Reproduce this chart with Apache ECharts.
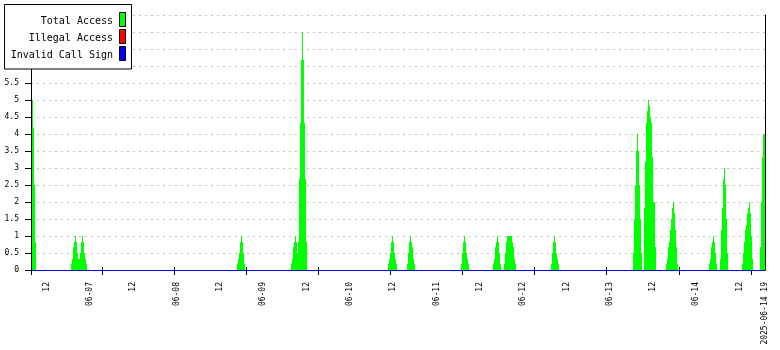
<!DOCTYPE html>
<html>
<head>
<meta charset="utf-8">
<script src="https://cdn.jsdelivr.net/npm/echarts@6/dist/echarts.min.js"></script>
<style>
  html, body { margin: 0; padding: 0; background: #fff; }
  #chart { width: 780px; height: 350px; }
</style>
</head>
<body>
<div id="chart"></div>
<script>
// ---- time range (hours counted from 2025-06-06 00:00) ----
const X_MIN = 7.67;      // 06-06 07:40
const X_MAX = 211;       // 06-14 19:00
const STEP_H = 1000 / 3600; // sampling period of the data (hours)

// ---- x axis labels ----
const labelHours = [12, 24, 36, 48, 60, 72, 84, 96, 108, 120, 132, 144, 156, 168, 180, 192, 204, 211];
const labelTexts = ['12', '06-07', '12', '06-08', '12', '06-09', '12', '06-10', '12', '06-11',
                    '12', '06-12', '12', '06-13', '12', '06-14', '12', '2025-06-14 19'];
// ---- x axis tick marks ----
const tickHours = [7.67, 27.43, 47.39, 67.34, 87.30, 107.25, 127.21, 147.17, 167.04, 187.35, 207.31];

// ---- series ----
const seriesNames = ['Total Access', 'Illegal Access', 'Invalid Call Sign'];
const seriesColors = ['#00ff00', '#ff0000', '#0000ff'];

// Total Access: start time of each burst (hours) and the sampled values in it
const burstStart = [7.86, 18.76, 64.77, 79.73, 106.62, 111.88, 126.85, 135.72, 138.77, 151.79,
                    174.52, 177.57, 183.67, 195.59, 198.63, 204.73, 209.72];
const burst0606a = [5, 4.17, 2.5, 0.83];
const burst0606b = [0.17, 0.33, 0.67, 0.83, 1, 0.83, 0.5, 0.33, 0.33, 0.5, 0.83, 1, 0.83, 0.5, 0.33, 0.17];
const burst0608  = [0.17, 0.33, 0.5, 0.83, 1, 0.83, 0.5, 0.17];
const burst0609  = [0.17, 0.33, 0.67, 0.83, 1, 0.83, 0.5, 0.83, 2.67, 4.33, 6.17, 7, 6.17, 4.33, 2.67, 0.83];
const burst0610a = [0.17, 0.33, 0.5, 0.83, 1, 0.83, 0.5, 0.33, 0.17];
const burst0610b = [0.17, 0.5, 0.83, 1, 0.83, 0.67, 0.33, 0.17];
const burst0611a = [0.17, 0.5, 0.83, 1, 0.83, 0.5, 0.33, 0.17];
const burst0611b = [0.17, 0.33, 0.67, 0.83, 1, 0.83, 0.5, 0.17];
const burst0611c = [0.17, 0.5, 0.83, 1, 1, 1, 1, 1, 0.83, 0.67, 0.33, 0.17];
const burst0612  = [0.17, 0.5, 0.83, 1, 0.83, 0.5, 0.33, 0.17];
const burst0613a = [0.5, 1.5, 2.5, 3.5, 4, 3.5, 2.5, 1.5, 0.5];
const burst0613b = [1.83, 3.17, 4.33, 4.67, 5, 4.83, 4.5, 4.33, 3.33, 2, 2, 0.67];
const burst0613c = [0.17, 0.33, 0.67, 0.83, 1.17, 1.5, 1.83, 2, 1.67, 1.17, 0.67, 0.17];
const burst0614a = [0.17, 0.33, 0.67, 0.83, 1, 0.83, 0.5, 0.17];
const burst0614b = [0.33, 1.17, 1.83, 2.67, 3, 2.5, 1.5, 0.5];
const burst0614c = [0.17, 0.5, 0.83, 1.17, 1.33, 1.67, 1.83, 2, 1.67, 1, 0.33];
const burst0614d = [0.67, 2, 3.33, 4, 4];
const bursts = [burst0606a, burst0606b, burst0608, burst0609, burst0610a, burst0610b, burst0611a,
                burst0611b, burst0611c, burst0612, burst0613a, burst0613b, burst0613c, burst0614a,
                burst0614b, burst0614c, burst0614d];

// Illegal Access and Invalid Call Sign: zero over the whole range [start, end, value]
const illegalAccess = [[X_MIN, X_MAX, 0]];
const invalidCallSign = [[X_MIN, X_MAX, 0]];

// Total Access samples: [sampleStart, sampleEnd, value]
const totalAccess = [];
bursts.forEach((vals, b) => {
  vals.forEach((v, i) => {
    const t = burstStart[b] + i * STEP_H;
    totalAccess.push([t, Math.min(t + STEP_H, X_MAX), v]);
  });
});

const MONO = '"DejaVu Sans Mono", "Liberation Mono", monospace';

function labelFor(v) {
  for (let i = 0; i < labelHours.length; i++) {
    if (Math.abs(labelHours[i] - v) < 1e-6) return labelTexts[i];
  }
  return '';
}

// filled sample columns (stepped area), drawn through the axis scales
function renderColumn(params, api) {
  const t0 = api.value(0), t1 = api.value(1), v = api.value(2);
  const pBase = api.coord([t0, 0]);
  const pTop = api.coord([t1, v]);
  const x0 = Math.round(pBase[0]);
  const x1 = Math.round(pTop[0]);
  const yb = Math.round(pBase[1]);
  const yt = Math.round(pTop[1]);
  return {
    type: 'rect',
    shape: { x: x0, y: yt, width: Math.max(x1 - x0, 1), height: yb - yt },
    style: { fill: api.visual('color') }
  };
}
// flat 1px series line
function renderFlat(params, api) {
  const p0 = api.coord([api.value(0), api.value(2)]);
  const p1 = api.coord([api.value(1), api.value(2)]);
  const y = Math.round(p0[1]) + 0.5;
  return {
    type: 'line',
    shape: { x1: Math.round(p0[0]), y1: y, x2: Math.round(p1[0]), y2: y },
    style: { stroke: api.visual('color'), lineWidth: 1 }
  };
}

// legend drawn as graphic (box with right-aligned text and swatches)
const legendEls = [{
  type: 'rect', z: 100,
  shape: { x: 4.5, y: 4.5, width: 127, height: 64.5 },
  style: { fill: '#fff', stroke: '#000', lineWidth: 1 }
}];
seriesNames.forEach((name, i) => {
  legendEls.push({
    type: 'text', z: 101,
    style: {
      text: name, x: 113, y: 21.5 + i * 17,
      font: '10px ' + MONO, fill: '#000',
      align: 'right', textAlign: 'right', verticalAlign: 'middle', textVerticalAlign: 'middle'
    }
  });
  legendEls.push({
    type: 'rect', z: 101,
    shape: { x: 119.5, y: 12.5 + i * 17, width: 6, height: 14 },
    style: { fill: seriesColors[i], stroke: '#000', lineWidth: 1 }
  });
});

const chart = echarts.init(document.getElementById('chart'), null, { renderer: 'canvas' });
chart.setOption({
  animation: false,
  backgroundColor: '#fff',
  grid: { left: 31, right: 15, top: 15, bottom: 80, containLabel: false },
  xAxis: [{
    type: 'value', min: X_MIN, max: X_MAX,
    axisLine: { show: true, lineStyle: { color: '#000', width: 1 } },
    axisTick: { show: true, customValues: tickHours, length: 5, lineStyle: { color: '#000', width: 1 } },
    axisLabel: {
      show: true, customValues: labelHours, rotate: 90, margin: 12,
      fontFamily: MONO, fontSize: 8, color: '#000',
      formatter: (v) => labelFor(v)
    },
    splitLine: { show: false }
  }, {
    type: 'value', min: X_MIN, max: X_MAX, position: 'bottom',
    axisLine: { show: false },
    axisTick: { show: true, inside: true, customValues: tickHours, length: 3, lineStyle: { color: '#000', width: 1 } },
    axisLabel: { show: false },
    splitLine: { show: false }
  }],
  yAxis: [{
    type: 'value', min: 0, max: 7.5, interval: 0.5,
    axisLine: { show: true, lineStyle: { color: '#000', width: 1 } },
    axisTick: { show: true, length: 6, lineStyle: { color: '#000', width: 1 } },
    axisLabel: { show: true, margin: 12, fontFamily: MONO, fontSize: 8, color: '#000' },
    splitLine: { show: true, lineStyle: { color: '#c0c0c0', width: 1, type: [2, 4] } }
  }, {
    type: 'value', min: 0, max: 7.5, position: 'right',
    axisLine: { show: true, lineStyle: { color: '#000', width: 1 } },
    axisTick: { show: false }, axisLabel: { show: false }, splitLine: { show: false }
  }],
  series: [{
    name: seriesNames[0], type: 'custom', renderItem: renderColumn, data: totalAccess,
    encode: { x: [0, 1], y: 2 }, itemStyle: { color: seriesColors[0] }, clip: true, z: 2
  }, {
    name: seriesNames[1], type: 'custom', renderItem: renderFlat, data: illegalAccess,
    encode: { x: [0, 1], y: 2 }, itemStyle: { color: seriesColors[1] }, z: 3
  }, {
    name: seriesNames[2], type: 'custom', renderItem: renderFlat, data: invalidCallSign,
    encode: { x: [0, 1], y: 2 }, itemStyle: { color: seriesColors[2] }, z: 4
  }],
  graphic: { elements: legendEls }
});
</script>
</body>
</html>
